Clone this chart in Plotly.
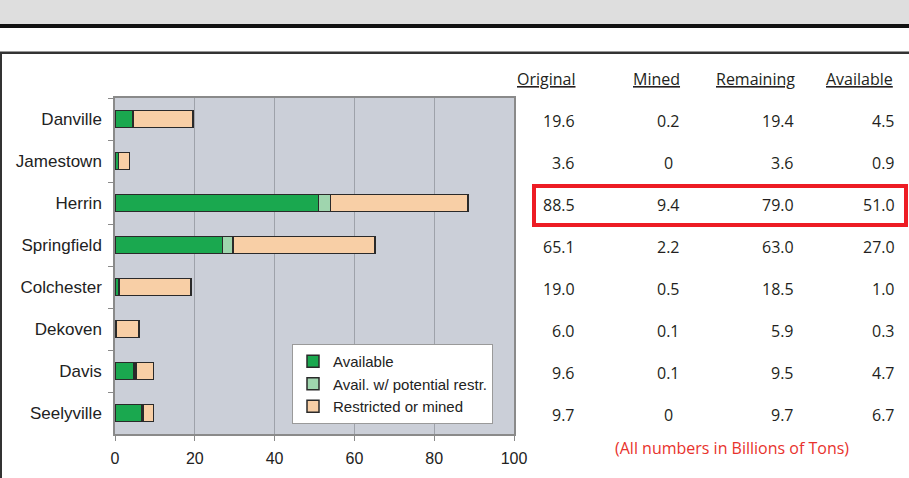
import plotly.graph_objects as go

W, H = 909, 478

categories = ["Danville", "Jamestown", "Herrin", "Springfield", "Colchester", "Dekoven", "Davis", "Seelyville"]
seg_available = [4.5, 0.9, 51.0, 27.0, 1.0, 0.3, 4.7, 6.7]
seg_avail_restr = [0.0, 0.0, 3.0, 2.6, 0.0, 0.0, 0.5, 0.3]
seg_restricted = [15.1, 2.7, 34.5, 35.5, 18.0, 5.7, 4.4, 2.7]

col_original = ["19.6", "3.6", "88.5", "65.1", "19.0", "6.0", "9.6", "9.7"]
col_mined = ["0.2", "0", "9.4", "2.2", "0.5", "0.1", "0.1", "0"]
col_remaining = ["19.4", "3.6", "79.0", "63.0", "18.5", "5.9", "9.5", "9.7"]
col_available = ["4.5", "0.9", "51.0", "27.0", "1.0", "0.3", "4.7", "6.7"]
headers = ["Original", "Mined", "Remaining", "Available"]
x_ticks = [0, 20, 40, 60, 80, 100]
note = "(All numbers in Billions of Tons)"


def px(x):
    return x / W


def py(y):
    return 1 - y / H


fig = go.Figure()
series = [
    ("Available", seg_available, "#1AA84F"),
    ("Avail. w/ potential restr.", seg_avail_restr, "#9FD5AE"),
    ("Restricted or mined", seg_restricted, "#F8CFA6"),
]
for name, vals, col in series:
    fig.add_trace(go.Bar(
        y=categories, x=vals, name=name, orientation="h",
        marker=dict(color=col, line=dict(color="#2a2a2a", width=1.5)),
    ))

fig.update_layout(
    width=W, height=H, autosize=False,
    margin=dict(l=0, r=0, t=0, b=0, pad=0, autoexpand=False),
    paper_bgcolor="white",
    plot_bgcolor="#CBCFD8",
    barmode="stack",
    bargap=0.6,
    showlegend=True,
    legend=dict(
        x=px(292), y=py(344), xanchor="left", yanchor="top",
        bgcolor="white", bordercolor="#9a9a9a", borderwidth=1,
        font=dict(family="Liberation Sans, Arial", size=15, color="#222"),
        itemwidth=30, tracegroupgap=0, traceorder="normal",
    ),
    xaxis=dict(
        domain=[px(115), px(514)], range=[0, 100], tickvals=x_ticks,
        showgrid=True, gridcolor="#9EA2AA", gridwidth=1,
        showline=True, linecolor="#8a8a8a", linewidth=1.5, mirror=True,
        ticks="outside", ticklen=5, tickcolor="#8a8a8a", ticklabelstandoff=4,
        tickfont=dict(family="Liberation Sans, Arial", size=16, color="#222"),
        zeroline=False, fixedrange=True, automargin=False,
    ),
    yaxis=dict(
        domain=[py(434), py(98)], autorange="reversed",
        categoryorder="array", categoryarray=categories,
        showline=True, linecolor="#8a8a8a", linewidth=1.5, mirror=True,
        ticks="outside", ticklen=5, tickcolor="#8a8a8a", tickson="boundaries",
        tickfont=dict(family="Liberation Sans, Arial", size=17, color="#222"),
        ticklabelstandoff=8, showgrid=False, automargin=False,
    ),
)

shapes = [
    dict(type="rect", xref="paper", yref="paper", x0=0, x1=1, y0=py(24), y1=1,
         fillcolor="#DEDEDE", line=dict(width=0), layer="below"),
    dict(type="rect", xref="paper", yref="paper", x0=0, x1=1, y0=py(28), y1=py(24),
         fillcolor="#111111", line=dict(width=0)),
    dict(type="rect", xref="paper", yref="paper", x0=0, x1=1, y0=py(54), y1=py(51.5),
         fillcolor="#333333", line=dict(width=0)),
    dict(type="rect", xref="paper", yref="paper", x0=0, x1=px(2), y0=0, y1=py(52),
         fillcolor="#333333", line=dict(width=0)),
    dict(type="rect", xref="paper", yref="paper", x0=px(534), x1=px(906), y0=py(225), y1=py(186),
         fillcolor="rgba(0,0,0,0)", line=dict(color="#ED1C24", width=4)),
]
fig.update_layout(shapes=shapes)

tfont = dict(family="Open Sans, Noto Sans, sans-serif", size=16, color="#231F20")
annotations = []
header_x = [546.5, 656.5, 755.5, 859]
for hx, h in zip(header_x, headers):
    annotations.append(dict(x=px(hx), y=py(79), xref="paper", yref="paper",
                            text="<u>" + h + "</u>", showarrow=False,
                            xanchor="center", yanchor="middle", font=tfont))
cols = [
    (col_original, 577, "right"),
    (col_mined, 668, "center"),
    (col_remaining, 796, "right"),
    (col_available, 897, "right"),
]
for vals, cx, anc in cols:
    for cat, v in zip(categories, vals):
        annotations.append(dict(x=px(cx), y=cat, xref="paper", yref="y",
                                text=v, showarrow=False, xanchor=anc,
                                yanchor="middle", yshift=-2, font=tfont))
annotations.append(dict(x=px(732), y=py(448), xref="paper", yref="paper",
                        text=note, showarrow=False, xanchor="center", yanchor="middle",
                        font=dict(family="Open Sans, Noto Sans, sans-serif", size=16, color="#E8322C")))
fig.update_layout(annotations=annotations)

css_js = (
    "var s=document.createElement('style');"
    "s.textContent='html,body{margin:0;padding:0;overflow:hidden;width:909px;height:478px;}';"
    "document.head.appendChild(s);"
)
fig.write_html("out.html", config={"displayModeBar": False, "responsive": False},
               post_script=css_js)
